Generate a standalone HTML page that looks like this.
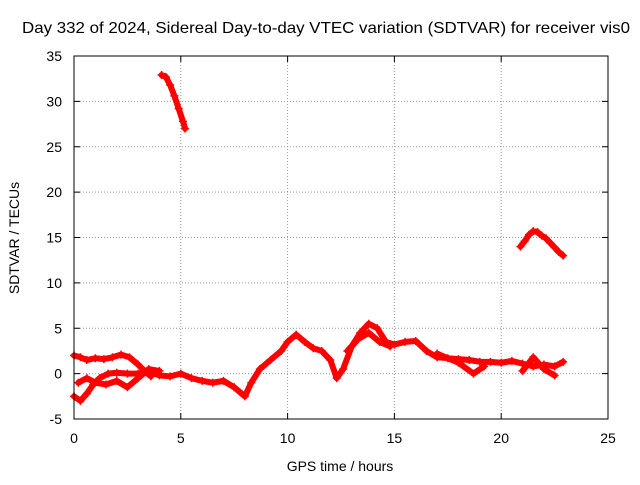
<!DOCTYPE html>
<html><head><meta charset="utf-8"><style>
body{margin:0;background:#fff}
svg text{font-family:"Liberation Sans",sans-serif;font-size:14px;fill:#000}
</style></head><body>
<svg id="chart" width="640" height="480" viewBox="0 0 640 480" xmlns="http://www.w3.org/2000/svg">
<text x="22" y="33" textLength="608" lengthAdjust="spacingAndGlyphs" style="font-size:16px">Day 332 of 2024, Sidereal Day-to-day VTEC variation (SDTVAR) for receiver vis0</text>
<g id="grid"></g>
<g id="ticks"></g>
<g id="series"></g>
<rect x="74" y="56" width="534" height="363" fill="none" stroke="#000" stroke-width="1"/>
<text x="340" y="471" text-anchor="middle">GPS time / hours</text>
<text transform="translate(19,238) rotate(-90)" text-anchor="middle">SDTVAR / TECUs</text>
</svg>
<script>
const xTicks=[0,5,10,15,20,25];
const yTicks=[-5,0,5,10,15,20,25,30,35];
const seriesHigh=[[4.1,32.9],[4.3,32.7],[4.5,31.8],[4.7,30.6],[4.9,29.2],[5.1,27.8],[5.2,27.0]];
const seriesLate=[[20.9,14],[21.1,14.6],[21.3,15.3],[21.5,15.7],[21.7,15.6],[21.9,15.2],[22.1,14.9],[22.3,14.4],[22.5,13.9],[22.7,13.4],[22.9,13.0]];
const seriesUpper=[[0,2],[0.3,1.8],[0.6,1.5],[1,1.7],[1.4,1.6],[1.8,1.8],[2.2,2.1],[2.6,1.8],[3,1.0],[3.3,0.3],[3.6,-0.3]];
const seriesMain=[[0,-2.5],[0.3,-3],[0.6,-2.2],[0.9,-1.2],[1.2,-0.5],[1.6,0],[2,0.1],[2.5,0],[3,0],[3.5,0.2],[4,-0.2],[4.5,-0.3],[5,0],[5.5,-0.5],[6,-0.8],[6.5,-1],[7,-0.8],[7.5,-1.5],[8,-2.5],[8.3,-1],[8.7,0.5],[9.2,1.5],[9.7,2.5],[10,3.5],[10.4,4.3],[10.8,3.5],[11.2,2.8],[11.6,2.5],[12,1.5],[12.3,-0.5],[12.6,0.5],[13,3],[13.4,4.5],[13.8,5.5],[14.2,5],[14.6,3.5],[15,3.2],[15.5,3.5],[16,3.6],[16.5,2.5],[17,1.8],[17.5,1.7],[18,1.6],[18.5,1.5],[19,1.3],[19.5,1.3],[20,1.2],[20.5,1.4],[21,1.1],[21.5,0.8],[22,1.0],[22.5,0.8],[22.9,1.3]];
const seriesB1=[[0.2,-1],[0.6,-0.5],[1,-1],[1.5,-1.2],[2,-0.8],[2.5,-1.5],[3,-0.5],[3.5,0.5],[4,0.3]];
const seriesB2=[[12.8,2.5],[13.3,3.8],[13.8,4.5],[14.3,3.5],[14.8,3]];
const seriesB3=[[17,2.2],[18,1.2],[18.7,0],[19.2,0.8]];
const seriesB4=[[21,0.3],[21.5,1.8],[22,0.5],[22.5,-0.2]];
const NS='http://www.w3.org/2000/svg';
const X=v=>74+v*534/25, Y=v=>419-(v+5)*363/40;
function mk(t,a,p){const e=document.createElementNS(NS,t);for(const k in a)e.setAttribute(k,a[k]);p.appendChild(e);return e;}
const grid=document.getElementById('grid'),ticks=document.getElementById('ticks'),ser=document.getElementById('series');
xTicks.forEach(v=>{
 const g=mk('line',{x1:X(v),x2:X(v),y1:56,y2:419,stroke:'#999','stroke-dasharray':'1,2','stroke-width':1},grid);
 
 mk('line',{x1:X(v),x2:X(v),y1:419,y2:413,stroke:'#000'},ticks);
 mk('line',{x1:X(v),x2:X(v),y1:56,y2:62,stroke:'#000'},ticks);
 const t=mk('text',{x:X(v),y:443,'text-anchor':'middle'},ticks);t.textContent=v;
 
});
yTicks.forEach(v=>{
 const g=mk('line',{x1:74,x2:608,y1:Y(v),y2:Y(v),stroke:'#999','stroke-dasharray':'1,2','stroke-width':1},grid);
 
 mk('line',{x1:74,x2:80,y1:Y(v),y2:Y(v),stroke:'#000'},ticks);
 mk('line',{x1:602,x2:608,y1:Y(v),y2:Y(v),stroke:'#000'},ticks);
 const t=mk('text',{x:62,y:Y(v)+5,'text-anchor':'end'},ticks);t.textContent=v;
 
});
[seriesHigh,seriesLate,seriesUpper,seriesMain,seriesB1,seriesB2,seriesB3,seriesB4].forEach(s=>{
 const pl=mk('polyline',{points:s.map(p=>X(p[0])+','+Y(p[1])).join(' '),fill:'none',stroke:'#f00','stroke-width':6,'stroke-linejoin':'round','stroke-linecap':'round'},ser);
 
 s.forEach(p=>{
  const m=mk('path',{d:`M${X(p[0])-4},${Y(p[1])}h8M${X(p[0])},${Y(p[1])-4}v8`,stroke:'#f00','stroke-width':1.5},ser);
  
 });
});
</script>
</body></html>
